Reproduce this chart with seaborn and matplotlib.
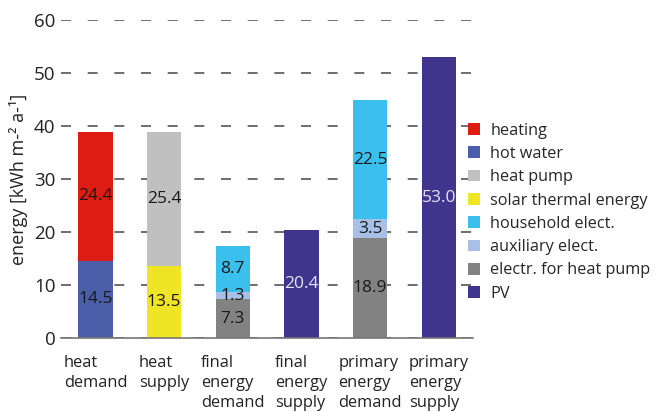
import numpy as np
import pandas as pd
import matplotlib
matplotlib.use("Agg")
import matplotlib.pyplot as plt
import seaborn as sns
from matplotlib.patches import Patch

# categories on the x axis
categories = ["heat\ndemand", "heat\nsupply", "final\nenergy\ndemand",
              "final\nenergy\nsupply", "primary\nenergy\ndemand", "primary\nenergy\nsupply"]

# components, listed bottom-to-top in stacking order
hot_water = [14.5, 0, 0, 0, 0, 0]
heating = [24.4, 0, 0, 0, 0, 0]
solar_thermal = [0, 13.5, 0, 0, 0, 0]
heat_pump = [0, 25.4, 0, 0, 0, 0]
electr_heat_pump = [0, 0, 7.3, 0, 18.9, 0]
auxiliary = [0, 0, 1.3, 0, 3.5, 0]
household = [0, 0, 8.7, 0, 22.5, 0]
pv = [0, 0, 0, 20.4, 0, 53.0]

stack_names = ["hot water", "heating", "solar thermal energy", "heat pump",
               "electr. for heat pump", "auxiliary elect.", "household elect.", "PV"]
stack_values = [hot_water, heating, solar_thermal, heat_pump,
                electr_heat_pump, auxiliary, household, pv]

colors = {
    "heating": "#DD1C14",
    "hot water": "#4A5EAA",
    "heat pump": "#C0C0C0",
    "solar thermal energy": "#F0E524",
    "household elect.": "#3BBFEC",
    "auxiliary elect.": "#A8C0E6",
    "electr. for heat pump": "#828282",
    "PV": "#3F358C",
}
legend_order = ["heating", "hot water", "heat pump", "solar thermal energy",
                "household elect.", "auxiliary elect.", "electr. for heat pump", "PV"]

sns.set_theme(style="white")
plt.rcParams["font.family"] = ["Open Sans", "DejaVu Sans"]

fig = plt.figure(figsize=(6.57, 4.12), dpi=100)
ax = fig.add_axes([0.093, 0.180, 0.627, 0.771])

vals = np.array(stack_values, dtype=float)
cum = np.cumsum(vals, axis=0)

# draw cumulative bars from top layer down so lower layers overdraw
for i in range(len(stack_names) - 1, -1, -1):
    df = pd.DataFrame({"cat": categories, "val": cum[i]})
    sns.barplot(data=df, x="cat", y="val", color=colors[stack_names[i]],
                width=0.5, saturation=1, linewidth=0, edgecolor="none", ax=ax, zorder=2)

# value labels
for i, name in enumerate(stack_names):
    for j in range(len(categories)):
        v = vals[i, j]
        if v <= 0:
            continue
        y = cum[i, j] - v / 2
        tc = "#E6E4F2" if name == "PV" else "#1a1a1a"
        ax.text(j, y, f"{v:.1f}", ha="center", va="center", fontsize=12.5, color=tc, zorder=3)

ax.set_xlim(-0.5, 5.5)
ax.set_ylim(0, 60)
ax.set_yticks(range(0, 61, 10))
ax.yaxis.grid(True, color="#555555", linestyle=(0, (6, 10)), linewidth=1.2, zorder=0)
ax.set_axisbelow(True)
ax.tick_params(axis="y", length=0, pad=4, labelsize=13.5, labelcolor="#222222")

ax.set_xticks(np.arange(-0.5, 6, 1), minor=False)
ax.set_xticklabels([])
ax.tick_params(axis="x", which="major", length=5, width=1, color="#777777", direction="out")
for j, lab in enumerate(categories):
    ax.text(j, -3.3, lab, ha="center", va="top", multialignment="left",
            fontsize=11.8, color="#222222", linespacing=1.3)

for s in ["top", "right", "left"]:
    ax.spines[s].set_visible(False)
ax.spines["bottom"].set_color("#777777")
ax.spines["bottom"].set_linewidth(1.2)

ax.set_xlabel("")
ax.set_ylabel("energy [kWh m-\u00b2 a-\u00b9]", fontsize=13, color="#222222", labelpad=4.5)

handles = [Patch(facecolor=colors[n], edgecolor="none", label=n) for n in legend_order]
fig.legend(handles=handles, loc="center left", bbox_to_anchor=(0.712, 0.485),
           frameon=False, fontsize=11.7, handlelength=0.74, handleheight=0.74,
           handletextpad=0.65, labelspacing=0.45, borderpad=0, borderaxespad=0)

fig.savefig("out.png", dpi=100)
